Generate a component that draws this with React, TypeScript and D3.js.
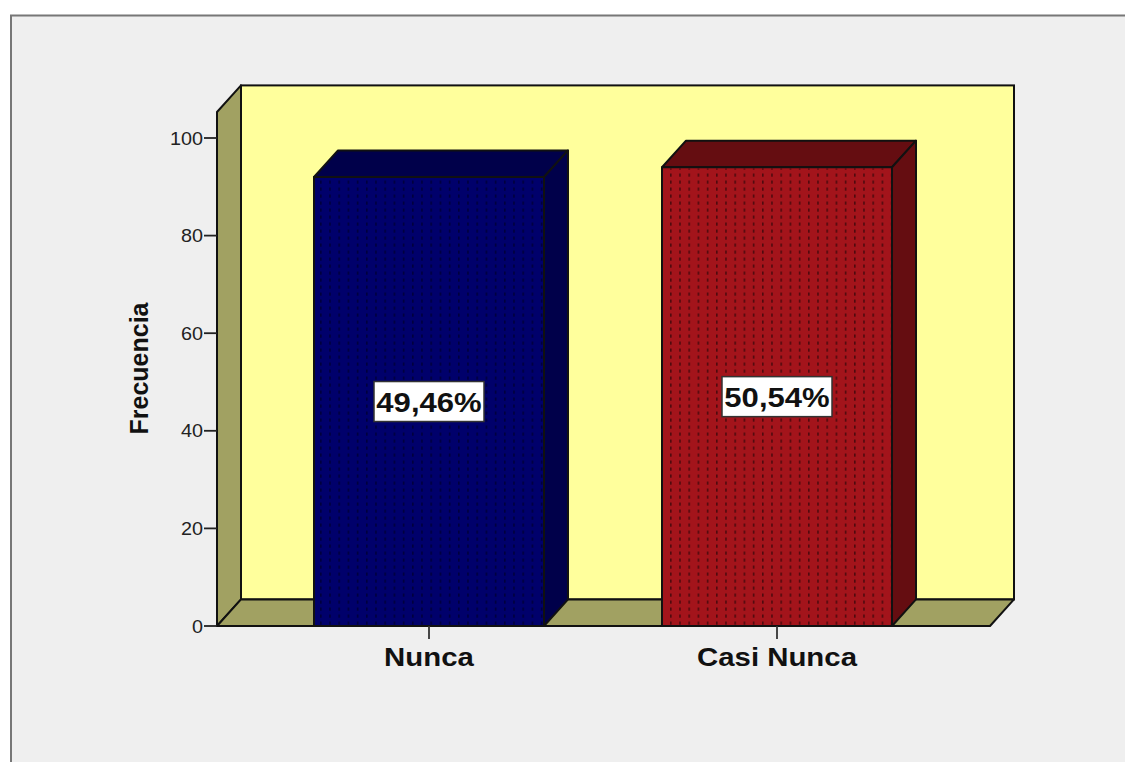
import React from "react";
import * as d3 from "d3";

const categories = ["Nunca", "Casi Nunca"];
const counts = [92, 94];
const percentLabels = ["49,46%", "50,54%"];
const yTicks = [0, 20, 40, 60, 80, 100];
const frontColors = ["#00006b", "#a3141b"];
const sideColors = ["#00004a", "#650d11"];
const dotColors = ["#00003c", "#4f0a0e"];
const yTitle = "Frecuencia";

const W = 1125, H = 762;
const y = d3.scaleLinear().domain([0, 100]).range([626, 138]);
const x = d3.scaleBand<string>().domain(categories).range([255, 951]).paddingInner(0).paddingOuter(0);
const barW = 230;
const dx = 24, dy = -26.6;
const floorL = 217, floorR = 990, yTop = 112;
const font = "Liberation Sans, Arial, sans-serif";
const stroke = "#111";
const sw = 2;

function pts(a: number[][]) { return a.map(p => p.join(",")).join(" "); }

export default function App() {
  const y0 = y(0);
  return (
    <svg width={W} height={H} style={{ position: "absolute", left: 0, top: 0, display: "block", background: "#fff" }}>
      <defs>
        {categories.map((c, i) => (
          <pattern key={c} id={`dots${i}`} patternUnits="userSpaceOnUse" x={i === 0 ? 320 : 670} y={166} width={9.2} height={7}>
            <rect x={0} y={0.5} width={1.6} height={3.2} fill={dotColors[i]} />
          </pattern>
        ))}
      </defs>
      <rect x={11} y={15.5} width={W} height={H} fill="#efefef" stroke="#777" strokeWidth={2} />

      {/* back wall, left wall, floor */}
      <rect x={floorL + dx} y={yTop + dy} width={floorR - floorL} height={y0 - yTop} fill="#ffff9c" stroke={stroke} strokeWidth={sw} />
      <polygon points={pts([[floorL, yTop], [floorL + dx, yTop + dy], [floorL + dx, y0 + dy], [floorL, y0]])} fill="#a1a162" stroke={stroke} strokeWidth={sw} strokeLinejoin="round" />
      <polygon points={pts([[floorL, y0], [floorL + dx, y0 + dy], [floorR + dx, y0 + dy], [floorR, y0]])} fill="#a1a162" stroke={stroke} strokeWidth={sw} strokeLinejoin="round" />

      {/* bars */}
      {categories.map((c, i) => {
        const cx = x(c)! + x.bandwidth() / 2;
        const l = cx - barW / 2, r = cx + barW / 2, t = y(counts[i]);
        return (
          <g key={c} stroke={stroke} strokeWidth={sw} strokeLinejoin="round">
            <polygon points={pts([[l, t], [l + dx, t + dy], [r + dx, t + dy], [r, t]])} fill={sideColors[i]} />
            <polygon points={pts([[r, t], [r + dx, t + dy], [r + dx, y0 + dy], [r, y0]])} fill={sideColors[i]} />
            <rect x={l} y={t} width={barW} height={y0 - t} fill={frontColors[i]} />
            <rect x={l + 1} y={t + 1} width={barW - 2} height={y0 - t - 2} fill={`url(#dots${i})`} stroke="none" />
          </g>
        );
      })}

      {/* y axis */}
      <line x1={floorL} x2={floorL} y1={y(100)} y2={y0} stroke={stroke} strokeWidth={sw} />
      {yTicks.map(v => (
        <g key={v}>
          <line x1={floorL - 13} x2={floorL} y1={y(v)} y2={y(v)} stroke="#222" strokeWidth={1.8} />
          <text transform={`translate(${floorL - 14},${y(v) + 6.5}) scale(1.1,1)`} textAnchor="end" fontFamily={font} fontSize={18} fill="#222">{v}</text>
        </g>
      ))}
      <text transform="translate(148,368.5) rotate(-90)" textAnchor="middle" fontFamily={font} fontSize={25} fontWeight="bold" fill="#111">{yTitle}</text>

      {/* x axis */}
      <line x1={floorL} x2={floorR} y1={y0} y2={y0} stroke={stroke} strokeWidth={sw} />
      {categories.map(c => {
        const cx = x(c)! + x.bandwidth() / 2;
        return (
          <g key={c}>
            <line x1={cx} x2={cx} y1={y0} y2={y0 + 13} stroke="#333" strokeWidth={1.8} />
            <text transform={`translate(${cx},666) scale(1.13,1)`} textAnchor="middle" fontFamily={font} fontSize={26} fontWeight="bold" fill="#111">{c}</text>
          </g>
        );
      })}

      {/* percent labels */}
      {categories.map((c, i) => {
        const cx = x(c)! + x.bandwidth() / 2;
        const cy = y(counts[i] / 2);
        return (
          <g key={c}>
            <rect x={cx - 55} y={cy - 20} width={110} height={40} fill="#fff" stroke="#333" strokeWidth={1.5} />
            <text transform={`translate(${cx},${cy + 10.5}) scale(1.09,1)`} textAnchor="middle" fontFamily={font} fontSize={28.5} fontWeight="bold" fill="#111">{percentLabels[i]}</text>
          </g>
        );
      })}
    </svg>
  );
}
